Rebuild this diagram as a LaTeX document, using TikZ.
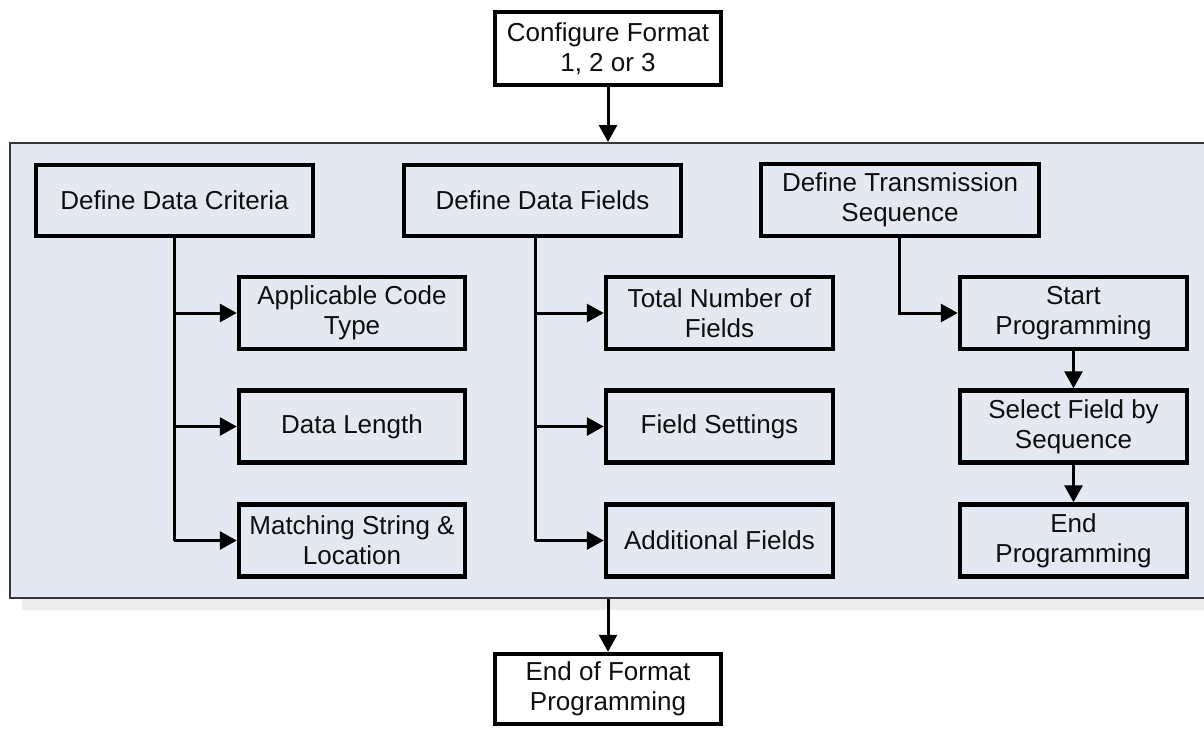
\documentclass[tikz,border=0pt]{standalone}
\usepackage{fontspec}
\setmainfont{Liberation Sans}
\usetikzlibrary{arrows.meta,positioning,calc}
\definecolor{panelfill}{RGB}{228,232,240}
\definecolor{panelline}{RGB}{55,55,55}
\definecolor{shadowc}{RGB}{236,236,236}
\definecolor{textc}{RGB}{15,15,15}
\tikzset{
  box/.style={draw=black, line width=4.5pt, fill=panelfill, align=center,
    text=textc, inner sep=0pt, font=\fontsize{26}{30}\selectfont},
  wbox/.style={box, fill=white},
  conn/.style={line width=3pt, draw=black},
  arr/.style={conn, -{Triangle[length=17pt,width=18pt]}},
}
\begin{document}
\begin{tikzpicture}[x=1pt,y=-1pt]
\useasboundingbox (0,0) rectangle (1204,728);
% shadow and panel
\fill[shadowc] (22,152) rectangle (1215,610);
\node[draw=panelline, line width=1.8pt, fill=panelfill, inner sep=0pt,
  minimum width=1210pt, minimum height=455pt, anchor=north west] (panel) at (9,142) {};
% top and bottom boxes
\node[wbox, minimum width=226pt, minimum height=73pt] (cfg) at (608,48.5) {Configure Format\\1, 2 or 3};
\node[wbox, minimum width=226pt, minimum height=70pt] (eof) at (608,689) {End of Format\\Programming};
% header boxes
\node[box, minimum width=277pt, minimum height=71pt] (ddc) at (174.5,200.5) {Define Data Criteria};
\node[box, minimum width=277pt, minimum height=71pt] (ddf) at (542.5,200.5) {Define Data Fields};
\node[box, minimum width=278pt, minimum height=72pt] (dts) at (900,200) {Define Transmission\\Sequence};
% left column
\node[box, minimum width=226pt, minimum height=72pt] (act) at (352,313) {Applicable Code\\Type};
\node[box, minimum width=226pt, minimum height=72pt] (dl) at (352,426.5) {Data Length};
\node[box, minimum width=226pt, minimum height=72pt] (ms) at (352,540.5) {Matching String \&\\Location};
% middle column
\node[box, minimum width=227pt, minimum height=72pt] (tnf) at (719.5,313) {Total Number of\\Fields};
\node[box, minimum width=227pt, minimum height=72pt] (fs) at (719.5,426.5) {Field Settings};
\node[box, minimum width=227pt, minimum height=72pt] (af) at (719.5,540.5) {Additional Fields};
% right column
\node[box, minimum width=227pt, minimum height=72pt] (sp) at (1073.5,313) {Start\\Programming};
\node[box, minimum width=227pt, minimum height=72pt] (sfs) at (1073.5,426.5) {Select Field by\\Sequence};
\node[box, minimum width=227pt, minimum height=72pt] (ep) at (1073.5,540.5) {End\\Programming};
% coordinates for trunks
\coordinate (t1) at (174,0);
\coordinate (t2) at (535,0);
\coordinate (t3) at (899,0);
% connectors
\draw[arr] (cfg.south) -- (cfg.south |- panel.north);
\draw[arr] (eof.north |- panel.south) -- (eof.north);
\draw[conn] (t1 |- ddc.south) -- (t1 |- ms.west);
\draw[arr] (t1 |- act.west) -- (act.west);
\draw[arr] (t1 |- dl.west) -- (dl.west);
\draw[arr] (t1 |- ms.west) -- (ms.west);
\draw[conn] (t2 |- ddf.south) -- (t2 |- af.west);
\draw[arr] (t2 |- tnf.west) -- (tnf.west);
\draw[arr] (t2 |- fs.west) -- (fs.west);
\draw[arr] (t2 |- af.west) -- (af.west);
\draw[arr] (t3 |- dts.south) |- (sp.west);
\draw[arr] (sp.south) -- (sfs.north);
\draw[arr] (sfs.south) -- (ep.north);
\end{tikzpicture}
\end{document}
